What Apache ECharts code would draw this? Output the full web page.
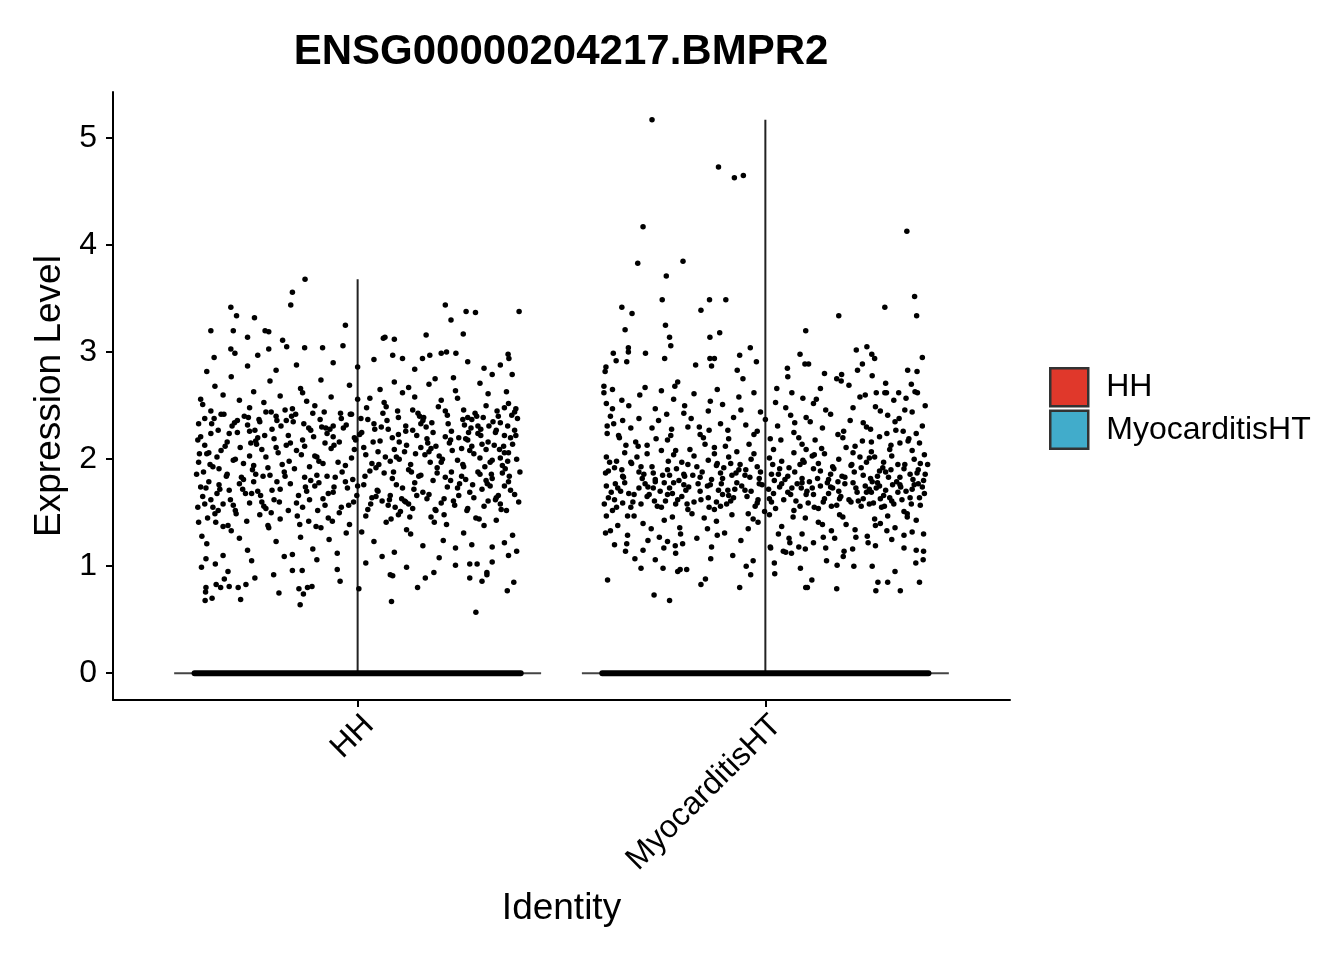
<!DOCTYPE html>
<html><head><meta charset="utf-8">
<script src="https://cdn.jsdelivr.net/npm/echarts@6/dist/echarts.min.js"></script>
<style>html,body{margin:0;padding:0;background:#fff}#c{width:1344px;height:960px}</style>
</head><body><div id="c"></div>
<script>
const chartTitle = 'ENSG00000204217.BMPR2';
const identities = ['HH', 'MyocarditisHT'];
const fillColors = ['#E0382B', '#41ACCB'];
const yTicks = [0, 1, 2, 3, 4, 5];
const maxExpr = [3.68, 5.17];
const zeroJitterSpan = [-0.4, 0.4];

// [jitter offset (category units), expression level] for non-zero cells
const hhCells = [
[-0.37,1.21],[0.12,1.34],[-0.05,1.12],[0.29,1.45],[-0.22,1.38],[0.33,1.18],[-0.14,1.27],[0.07,1.41],[-0.31,1.33],[0.21,1.24],[0.02,1.47],[-0.27,1.15],[0.38,1.29],[-0.09,1.36],[0.16,1.19],[-0.19,1.44],[0.26,1.31],[-0.35,1.49],[0.04,1.23],[0.31,1.38],[-0.11,1.16],[0.18,1.46],[-0.29,1.26],[0.09,1.13],[-0.02,1.39],[0.36,1.22],[-0.24,1.48],[0.13,1.3],[-0.39,1.41],[0.24,1.17],[-0.07,1.25],[0.34,1.43],[-0.16,1.11],[0.01,1.32],[0.28,1.2],[-0.33,1.37],[0.1,1.48],[-0.2,1.23],[0.39,1.14],[-0.12,1.42],
[-0.36,1.62],[0.14,1.78],[-0.04,1.55],[0.3,1.86],[-0.21,1.71],[0.35,1.58],[-0.13,1.83],[0.08,1.66],[-0.3,1.52],[0.22,1.74],[0.03,1.89],[-0.26,1.68],[0.37,1.79],[-0.08,1.57],[0.17,1.63],[-0.18,1.88],[0.27,1.54],[-0.34,1.76],[0.05,1.7],[0.32,1.61],[-0.1,1.85],[0.19,1.53],[-0.28,1.81],[0.11,1.73],[-0.01,1.6],[0.355,1.87],[-0.23,1.56],[0.15,1.84],[-0.38,1.65],[0.25,1.77],[-0.06,1.69],[0.33,1.82],[-0.15,1.59],[0.0,1.75],[0.285,1.64],[-0.32,1.86],[0.105,1.51],[-0.19,1.72],[0.385,1.67],[-0.115,1.8],
[-0.385,1.74],[0.125,1.58],[-0.055,1.83],[0.275,1.69],[-0.235,1.6],[0.315,1.8],[-0.145,1.66],[0.065,1.87],[-0.315,1.71],[0.205,1.59],[0.015,1.76],[-0.285,1.83],[0.365,1.52],[-0.095,1.78],[0.155,1.85],[-0.205,1.62],[0.245,1.73],[-0.355,1.55],[0.035,1.64],[0.295,1.88],[-0.125,1.7],[0.175,1.67],[-0.305,1.57],[0.085,1.82],[-0.025,1.73],[0.345,1.66],[-0.255,1.79],[0.135,1.54],[-0.395,1.86],[0.235,1.61],[-0.075,1.84],[0.325,1.75],[-0.165,1.77],[0.025,1.53],[0.265,1.81],[-0.345,1.68],[0.095,1.76],[-0.215,1.85],[0.395,1.6],[-0.135,1.55],
[-0.33,1.58],[0.16,1.69],[-0.03,1.79],[0.31,1.56],[-0.25,1.86],[0.375,1.71],[-0.17,1.52],[0.06,1.61],[-0.29,1.77],[0.23,1.88],[0.045,1.65],[-0.265,1.59],[0.34,1.64],[-0.105,1.75],[0.185,1.8],[-0.225,1.54],[0.255,1.84],[-0.365,1.79],[0.075,1.57],[0.305,1.72],[-0.085,1.63],[0.195,1.87],[-0.275,1.68],[0.115,1.61],[-0.045,1.5],[0.36,1.75],[-0.245,1.7],[0.145,1.66],[-0.375,1.58],[0.215,1.83],
[-0.37,2.05],[0.13,1.95],[-0.06,2.21],[0.28,2.12],[-0.22,1.92],[0.34,2.27],[-0.15,2.08],[0.08,1.98],[-0.32,2.16],[0.2,2.03],[0.01,2.25],[-0.28,1.96],[0.38,2.14],[-0.1,2.02],[0.17,2.19],[-0.2,2.11],[0.26,1.93],[-0.36,2.24],[0.05,2.07],[0.3,2.01],[-0.12,2.29],[0.18,2.1],[-0.3,2.0],[0.1,2.23],[-0.03,1.94],[0.36,2.06],[-0.25,2.17],[0.12,2.13],[-0.39,1.97],[0.23,2.26],[-0.08,2.15],[0.33,1.99],[-0.17,2.22],[0.02,2.04],[0.27,2.18],[-0.34,1.91],[0.09,2.09],[-0.21,2.28],[0.39,2.0],[-0.13,2.12],
[-0.355,1.93],[0.145,2.22],[-0.015,2.01],[0.295,2.24],[-0.195,2.06],[0.325,1.97],[-0.155,1.91],[0.055,2.17],[-0.335,2.08],[0.225,2.15],[0.035,1.96],[-0.245,2.2],[0.385,2.27],[-0.065,2.1],[0.165,2.04],[-0.185,1.95],[0.265,2.19],[-0.375,2.13],[0.075,2.28],[0.315,2.09],[-0.105,2.03],[0.195,1.92],[-0.265,2.26],[0.115,2.07],[-0.045,2.16],[0.355,1.94],[-0.225,2.02],[0.155,2.11],[-0.385,2.21],[0.245,1.99],[-0.085,1.96],[0.305,2.14],[-0.135,2.18],[0.005,2.23],[0.285,2.05],[-0.315,2.24],[0.125,1.9],[-0.175,2.13],[0.37,2.06],[-0.115,2.27],
[-0.325,2.12],[0.175,2.07],[-0.035,2.29],[0.32,2.16],[-0.265,2.03],[0.36,2.22],[-0.165,2.15],[0.045,1.92],[-0.305,1.99],[0.215,2.21],[0.015,2.11],[-0.295,2.25],[0.35,2.01],[-0.095,1.98],[0.185,2.25],[-0.205,2.19],[0.275,2.08],[-0.345,2.02],[0.085,2.2],[0.335,2.13],[-0.075,2.24],[0.205,1.97],[-0.235,2.09],[0.095,2.02],[-0.005,2.18],[0.375,2.2],[-0.255,1.94],[0.135,2.27],[-0.365,2.06],[0.255,2.1],
[-0.36,2.45],[0.11,2.62],[-0.04,2.38],[0.3,2.71],[-0.23,2.53],[0.35,2.34],[-0.14,2.66],[0.07,2.49],[-0.31,2.77],[0.22,2.41],[0.03,2.57],[-0.27,2.32],[0.37,2.52],[-0.09,2.74],[0.16,2.36],[-0.19,2.59],[0.26,2.46],[-0.35,2.68],[0.04,2.33],[0.32,2.61],[-0.11,2.43],[0.19,2.75],[-0.29,2.55],[0.1,2.39],[-0.02,2.69],[0.36,2.48],[-0.24,2.35],[0.14,2.58],[-0.38,2.51],[0.24,2.64],[-0.06,2.31],[0.33,2.79],[-0.16,2.47],[0.0,2.56],[0.28,2.37],[-0.33,2.6],[0.09,2.72],[-0.2,2.4],[0.385,2.44],[-0.125,2.54],
[-0.39,2.33],[0.135,2.46],[-0.065,2.58],[0.27,2.39],[-0.215,2.73],[0.315,2.5],[-0.175,2.36],[0.055,2.65],[-0.335,2.42],[0.205,2.55],[0.025,2.37],[-0.255,2.63],[0.345,2.4],[-0.105,2.5],[0.175,2.7],[-0.225,2.44],[0.245,2.57],[-0.375,2.38],[0.065,2.53],[0.295,2.31],[-0.135,2.62],[0.215,2.45],[-0.295,2.36],[0.125,2.67],[-0.015,2.42],[0.365,2.63],[-0.265,2.48],[0.155,2.33],[-0.385,2.56],[0.235,2.76],
[-0.392,2.18],[0.108,1.63],[-0.018,2.42],[0.268,1.52],[-0.188,2.31],[0.362,1.91],[-0.148,1.47],[0.072,2.36],[-0.322,1.84],[0.198,2.49],[0.048,1.71],[-0.278,2.4],[0.332,2.35],[-0.062,1.42],[0.142,2.05],[-0.238,1.66],[0.222,2.33],[-0.342,2.27],[0.088,1.88],[0.288,2.43],[-0.092,2.37],[0.238,1.57],[-0.258,1.9],[0.128,1.46],[-0.008,2.09],[0.392,2.38],[-0.212,2.44],[0.168,2.3],[-0.368,1.45],[0.218,1.39],[-0.048,1.97],[0.352,1.53],[-0.132,2.33],[0.018,1.84],[0.302,2.28],[-0.302,2.34],[0.082,1.44],[-0.168,1.98],[0.378,2.41],[-0.098,1.52],
[-0.348,1.41],[0.152,2.4],[-0.072,1.68],[0.312,1.93],[-0.252,2.27],[0.342,2.45],[-0.108,2.21],[0.032,1.58],[-0.288,2.11],[0.258,2.37],[0.062,2.43],[-0.218,1.36],[0.372,1.84],[-0.038,1.88],[0.188,1.41],[-0.158,2.35],[0.282,1.76],[-0.378,1.88],[0.118,2.31],[0.248,2.2],[-0.198,1.79],[0.212,1.63],[-0.328,2.42],[0.102,2.16],[-0.028,1.31],[0.322,2.31],[-0.272,1.42],[0.178,1.97],[-0.358,2.33],[0.272,2.25],[-0.118,1.93],[0.298,1.44],[-0.228,2.22],[0.008,2.38],[0.232,2.08],[-0.312,1.62],[0.058,2.3],[-0.142,1.39],[0.358,2.12],[-0.082,2.44],
[-0.382,1.28],[0.118,2.26],[-0.012,1.81],[0.248,1.66],[-0.178,2.46],[0.338,1.62],[-0.138,2.04],[0.092,1.55],[-0.352,2.38],[0.182,2.34],[0.038,2.16],[-0.298,1.49],[0.388,2.22],[-0.078,2.29],[0.138,1.72],[-0.248,2.14],[0.292,2.4],[-0.388,2.05],[0.022,2.48],[0.318,1.77],[-0.058,1.74],[0.162,2.39],[-0.232,1.84],[0.078,1.62],[-0.102,1.37],[0.348,2.09],[-0.268,2.39],[0.192,1.52],[-0.338,1.72],[0.262,2.32],[-0.042,2.43],[0.308,2.39],[-0.192,1.6],[-0.002,1.66],[0.228,1.8],[-0.362,1.95],[0.068,2.02],[-0.162,2.4],[0.398,1.88],[-0.028,2.32],
[-0.372,1.73],[0.098,2.45],[-0.068,2.28],[0.278,2.29],[-0.242,2.37],[0.328,1.86],[-0.118,1.62],[0.052,1.95],[-0.262,2.15],[0.208,2.0],[-0.022,1.57],[-0.308,2.31],[0.368,1.98],[-0.088,2.3],[0.172,2.15],[-0.212,1.5],[0.302,2.22],[-0.342,1.52],[0.132,1.88],[0.258,1.95],[-0.152,2.42],[0.228,2.18],[-0.282,1.72],[0.148,2.43],[-0.008,2.2],[0.338,2.25],[-0.198,2.36],[0.118,1.6],[-0.318,1.38],[0.192,2.12],[-0.072,1.45],[0.368,2.31],[-0.178,1.84],[0.042,2.28],[0.212,1.48],[-0.392,1.55],[0.102,2.0],[-0.128,1.74],[0.388,2.47],[-0.058,2.13],
[-0.129,3.68],[-0.16,3.56],[-0.164,3.44],[-0.311,3.42],[-0.297,3.34],[-0.253,3.32],[0.215,3.44],[0.229,3.3],[0.266,3.38],[0.289,3.37],[0.396,3.38],[0.259,3.17],[-0.36,3.2],[-0.305,3.2],[-0.227,3.2],[-0.218,3.19],[-0.03,3.25],[0.063,3.13],[0.067,3.14],[0.09,3.12],[0.168,3.16],[-0.184,3.11],[-0.174,3.05],[-0.27,3.14],[0.205,2.99],[0.218,3.0],[0.241,2.99],[0.369,2.98],[0.371,2.94],[-0.036,3.06],[-0.13,3.04],[-0.086,3.04],[-0.311,3.03],[-0.301,2.99],[-0.352,2.95],[-0.245,2.97],[-0.218,3.03],[0.11,2.94],[0.086,2.97],[0.159,2.94],[0.177,2.97],[0.27,2.91],[0.379,2.79],
[-0.37,2.82],[0.0,2.86],[-0.15,2.88],[0.31,2.85],[-0.06,2.9],[0.14,2.84],[-0.27,2.87],[0.35,2.88],[0.04,2.93],[-0.2,2.83],
[0.29,0.57],[0.083,0.67],[-0.141,0.64],[-0.374,0.68],[-0.357,0.7],[-0.287,0.69],[-0.373,0.76],[-0.372,0.8],[0.003,0.79],[-0.193,0.75],[-0.144,0.79],[-0.133,0.74],[-0.123,0.8],[-0.112,0.81],[-0.043,0.86],[0.367,0.77],[0.383,0.85],[0.275,0.89],[0.305,0.86],[0.147,0.8],[0.166,0.89],[0.187,0.94],[0.293,1.02],[0.275,1.02],[0.317,0.94],[0.317,0.92],[0.08,0.92],[0.086,0.91],[-0.336,0.8],[-0.315,0.81],[-0.293,0.8],[-0.274,0.83],[-0.347,0.83],[-0.252,0.89],[-0.327,0.88],[-0.318,0.95],[-0.383,0.99],[-0.372,1.07],[-0.349,1.02],[-0.206,0.92],[-0.16,0.96],[-0.136,0.96],
[-0.26,1.05],[0.02,1.03],[0.2,1.08],[-0.05,0.97],[0.33,1.04],[-0.18,1.09],[0.12,0.99],[0.37,1.1],[-0.33,1.1],[0.24,1.01],[-0.1,1.06],[0.06,1.09]
];

const myoCells = [
[-0.38,1.33],[0.13,1.41],[-0.06,1.24],[0.3,1.47],[-0.21,1.36],[0.34,1.29],[-0.15,1.45],[0.06,1.22],[-0.3,1.4],[0.22,1.34],[0.01,1.48],[-0.26,1.27],[0.37,1.43],[-0.1,1.31],[0.17,1.26],[-0.18,1.49],[0.27,1.38],[-0.34,1.21],[0.04,1.37],[0.31,1.25],[-0.12,1.42],[0.19,1.46],[-0.28,1.35],[0.09,1.3],[-0.03,1.44],[0.36,1.32],[-0.24,1.23],[0.14,1.39],[-0.39,1.47],[0.25,1.28],
[-0.362,1.38],[0.142,1.27],[-0.042,1.35],[0.282,1.4],[-0.228,1.46],[0.318,1.36],[-0.118,1.29],[0.098,1.45],[-0.288,1.24],[0.198,1.39],[0.032,1.3],[-0.248,1.43],[0.388,1.3],[-0.082,1.48],[0.162,1.33],[-0.168,1.26],[0.252,1.22],[-0.322,1.47],[0.058,1.26],[0.348,1.46],[-0.142,1.35],[0.222,1.27],[-0.392,1.31],[0.118,1.22],[-0.018,1.41],[0.298,1.33],[-0.208,1.3],[0.182,1.48],[-0.338,1.29],[0.268,1.44],
[-0.37,1.62],[0.12,1.55],[-0.05,1.71],[0.29,1.66],[-0.22,1.58],[0.33,1.76],[-0.14,1.64],[0.07,1.52],[-0.31,1.73],[0.21,1.6],[0.02,1.68],[-0.27,1.79],[0.38,1.57],[-0.09,1.66],[0.16,1.74],[-0.19,1.53],[0.26,1.69],[-0.35,1.59],[0.04,1.77],[0.31,1.61],[-0.11,1.56],[0.18,1.7],[-0.29,1.65],[0.09,1.78],[-0.02,1.59],[0.36,1.72],[-0.24,1.67],[0.13,1.54],[-0.39,1.75],[0.24,1.63],[-0.07,1.78],[0.34,1.51],[-0.16,1.7],[0.01,1.63],[0.28,1.75],[-0.33,1.55],[0.1,1.67],[-0.2,1.76],[0.39,1.68],[-0.12,1.6],
[-0.355,1.7],[0.145,1.63],[-0.025,1.56],[0.275,1.78],[-0.235,1.73],[0.315,1.58],[-0.165,1.77],[0.055,1.69],[-0.325,1.6],[0.195,1.77],[0.025,1.54],[-0.285,1.67],[0.355,1.64],[-0.075,1.72],[0.175,1.57],[-0.205,1.65],[0.245,1.75],[-0.375,1.52],[0.075,1.61],[0.295,1.71],[-0.135,1.76],[0.205,1.62],[-0.305,1.58],[0.115,1.73],[-0.045,1.65],[0.375,1.77],[-0.255,1.55],[0.155,1.68],[-0.385,1.64],[0.235,1.56],[-0.095,1.58],[0.325,1.69],[-0.175,1.6],[0.035,1.74],[0.265,1.59],[-0.345,1.78],[0.085,1.56],[-0.215,1.62],[0.385,1.74],[-0.115,1.71],
[-0.365,1.55],[0.165,1.73],[-0.015,1.77],[0.305,1.64],[-0.245,1.61],[0.345,1.7],[-0.125,1.53],[0.045,1.62],[-0.295,1.77],[0.225,1.69],[0.015,1.6],[-0.265,1.56],[0.365,1.76],[-0.085,1.61],[0.185,1.65],[-0.195,1.71],[0.255,1.58],[-0.335,1.68],[0.065,1.73],[0.285,1.55],[-0.105,1.67],[0.215,1.78],[-0.275,1.73],[0.105,1.59],[-0.035,1.7],[0.335,1.62],[-0.225,1.78],[0.135,1.75],[-0.395,1.58],[0.255,1.72],
[-0.37,1.92],[0.12,2.04],[-0.05,1.85],[0.29,1.97],[-0.22,2.08],[0.33,1.83],[-0.14,1.99],[0.07,2.06],[-0.31,1.88],[0.21,1.94],[0.02,2.09],[-0.27,1.81],[0.38,1.96],[-0.09,2.02],[0.16,1.86],[-0.19,1.95],[0.26,2.07],[-0.35,1.84],[0.04,1.98],[0.31,2.03],[-0.11,1.87],[0.18,2.0],[-0.29,2.05],[0.09,1.82],[-0.02,1.93],[0.36,2.08],[-0.24,1.9],[0.13,1.96],[-0.39,2.02],[0.24,1.85],[-0.07,2.07],[0.34,1.91],[-0.16,1.83],[0.01,2.01],[0.28,1.89],[-0.33,1.97],[0.1,2.09],[-0.2,1.86],[0.39,2.04],[-0.12,1.94],
[-0.345,2.06],[0.135,1.89],[-0.035,2.0],[0.275,1.84],[-0.205,1.97],[0.305,2.09],[-0.155,1.88],[0.085,1.95],[-0.315,2.02],[0.195,1.83],[0.035,1.91],[-0.255,2.08],[0.355,1.86],[-0.065,1.9],[0.145,2.05],[-0.175,2.03],[0.235,1.92],[-0.365,1.98],[0.055,1.84],[0.325,1.95],[-0.125,2.05],[0.165,1.93],[-0.275,1.87],[0.115,2.03],[-0.015,1.82],[0.375,1.9],[-0.225,2.04],[0.155,1.81],[-0.385,1.89],[0.215,2.06],[-0.085,1.96],[0.295,1.88],[-0.185,2.09],[0.015,1.86],[0.255,2.01],[-0.305,1.93],[0.095,1.97],[-0.235,1.85],[0.365,2.0],[-0.105,1.82],
[-0.36,2.22],[0.11,2.35],[-0.04,2.14],[0.3,2.41],[-0.23,2.28],[0.35,2.17],[-0.14,2.45],[0.07,2.25],[-0.31,2.38],[0.22,2.12],[0.03,2.31],[-0.27,2.47],[0.37,2.24],[-0.09,2.19],[0.16,2.42],[-0.19,2.3],[0.26,2.16],[-0.35,2.36],[0.05,2.48],[0.32,2.27],[-0.11,2.33],[0.19,2.2],[-0.29,2.13],[0.1,2.39],[-0.02,2.26],[0.36,2.44],[-0.24,2.18],[0.14,2.29],[-0.38,2.4],[0.24,2.34],[-0.06,2.46],[0.33,2.15],[-0.16,2.23],[0.0,2.37],[0.28,2.21],[-0.33,2.29],[0.09,2.14],[-0.2,2.43],[0.385,2.31],[-0.125,2.11],
[-0.372,2.33],[0.118,2.52],[-0.028,2.62],[0.258,2.28],[-0.198,2.5],[0.328,2.38],[-0.152,2.2],[0.062,2.41],[-0.318,2.16],[0.232,2.58],[0.012,2.19],[-0.262,2.36],[0.358,2.7],[-0.078,2.39],[0.178,2.23],[-0.222,2.68],[0.282,2.45],[-0.388,2.24],[0.092,2.57],[0.308,2.13],[-0.118,2.65],[0.208,2.36],[-0.278,2.29],[0.148,2.46],[-0.048,2.32],[0.378,2.15],[-0.242,2.42],[0.122,2.18],[-0.352,2.55],[0.272,2.62],[-0.092,2.27],[0.342,2.46],[-0.182,2.38],[0.028,2.66],[0.248,2.3],[-0.308,2.6],[0.072,2.34],[-0.138,2.27],[0.392,2.5],[-0.012,2.44],
[-0.39,2.52],[0.135,2.66],[-0.065,2.58],[0.27,2.49],[-0.215,2.72],[0.315,2.55],[-0.175,2.61],[0.055,2.77],[-0.335,2.5],[0.205,2.69],[0.025,2.53],[-0.255,2.64],[0.345,2.57],[-0.105,2.51],[0.175,2.75],[-0.225,2.56],[0.245,2.6],[-0.375,2.47],[0.065,2.62],[0.295,2.71],[-0.135,2.54],[0.215,2.48],[-0.295,2.67],[0.125,2.56],
[-0.392,1.87],[0.108,1.79],[-0.018,1.62],[0.268,2.02],[-0.188,1.74],[0.362,1.81],[-0.148,2.14],[0.072,1.88],[-0.322,1.67],[0.198,2.11],[0.048,1.81],[-0.278,1.93],[0.332,1.74],[-0.062,1.95],[0.142,1.6],[-0.238,1.98],[0.222,1.73],[-0.342,2.13],[0.088,1.73],[0.288,1.92],[-0.092,1.71],[0.238,2.17],[-0.258,1.7],[0.128,1.82],[-0.008,1.76],[0.392,1.86],[-0.212,1.8],[0.168,1.91],[-0.368,1.77],[0.218,1.88],[-0.048,1.9],[0.352,2.19],[-0.132,1.81],[0.018,1.95],[0.302,1.83],[-0.302,1.82],[0.082,2.2],[-0.168,1.93],[0.378,1.64],[-0.098,2.12],
[-0.348,1.83],[0.152,1.78],[-0.072,1.87],[0.312,1.76],[-0.252,1.85],[0.342,1.95],[-0.108,1.77],[0.032,1.86],[-0.288,1.74],[0.258,1.82],[0.062,1.67],[-0.218,1.91],[0.372,1.87],[-0.038,1.83],[0.188,1.84],[-0.158,1.62],[0.282,1.63],[-0.378,1.69],[0.118,1.91],[0.248,1.97],[-0.198,1.84],[0.212,1.95],[-0.328,1.96],[0.102,1.7],[-0.028,2.05],[0.322,1.79],[-0.272,1.61],[0.178,1.79],[-0.358,2.2],[0.272,1.73],[-0.118,1.96],[0.298,2.24],[-0.228,1.68],[0.008,1.72],[0.232,2.02],[-0.312,2.12],[0.058,1.92],[-0.142,1.75],[0.358,1.58],[-0.082,1.85],
[-0.382,1.97],[0.118,1.67],[-0.012,1.88],[0.248,1.69],[-0.178,1.85],[0.338,2.26],[-0.138,1.55],[0.092,1.99],[-0.352,1.9],[0.182,1.63],[0.038,2.18],[-0.298,1.86],[0.388,1.8],[-0.078,1.64],[0.138,2.1],[-0.248,1.78],[0.292,1.56],[-0.388,2.31],[0.022,1.8],[0.318,2.35],[-0.058,1.75],[0.162,1.56],[-0.232,2.22],[0.078,1.77],[-0.102,1.92],[0.348,1.49],[-0.268,2.19],[0.192,2.26],[-0.338,1.47],[0.262,1.79],[-0.042,1.49],[0.308,1.9],[-0.192,1.58],[-0.002,1.51],[0.228,1.61],[-0.362,1.73],[0.068,1.46],[-0.162,2.3],[0.398,1.95],[-0.028,2.23],
[-0.3,1.15],[0.05,1.13],[0.27,1.19],[-0.08,1.1],[0.34,1.17],[-0.22,1.12],[0.15,1.05],[-0.37,1.2],
[-0.278,5.17],[-0.115,4.73],[-0.076,4.63],[-0.054,4.65],[0.347,4.13],[-0.3,4.17],[-0.313,3.83],[-0.202,3.85],[-0.243,3.71],[-0.253,3.49],[-0.137,3.49],[-0.097,3.49],[0.366,3.52],[0.371,3.34],[0.293,3.42],[0.18,3.34],[-0.352,3.42],[-0.327,3.36],[-0.344,3.21],[-0.245,3.25],[-0.158,3.39],[-0.112,3.18],[-0.136,3.14],[0.099,3.2],[-0.235,3.14],[-0.232,3.06],[-0.336,3.04],[-0.336,3.0],[-0.373,2.99],[-0.366,2.92],[-0.34,2.91],[-0.294,2.99],[-0.247,2.94],[-0.171,2.88],[-0.136,2.94],[-0.125,2.94],[-0.132,2.87],[-0.063,2.97],[-0.037,3.04],[-0.022,2.91],[-0.069,2.83],[-0.055,2.75],[0.085,2.98],[0.097,2.89],[0.106,2.89],[0.054,2.85],[0.223,3.02],[0.249,3.05],[0.261,2.98],[0.268,2.94],[0.238,2.89],[0.226,2.83],[0.262,2.78],[0.385,2.95],[0.349,2.83],[0.372,2.82],[0.367,2.63],[0.373,2.62],[-0.393,2.82],[-0.391,2.86],[-0.396,2.68],[-0.396,2.62],[-0.375,2.65],[0.145,2.8],[0.187,2.79],[0.186,2.73],[0.293,2.62],[0.297,2.62],[0.327,2.62],
[-0.387,0.87],[-0.273,0.73],[-0.235,0.68],[-0.063,0.8],[-0.158,0.83],[-0.147,0.88],[-0.215,0.95],[-0.209,0.97],[-0.193,0.97],[-0.305,0.98],[-0.251,0.98],[-0.27,1.06],[-0.32,1.07],[-0.343,1.14],[-0.047,1.0],[-0.03,1.05],[-0.036,0.92],[0.023,0.93],[0.022,1.03],[0.086,0.98],[0.099,0.8],[0.103,0.8],[0.114,0.87],[0.175,0.79],[0.176,1.01],[0.217,1.0],[0.262,1.0],[0.271,0.77],[0.276,0.85],[0.3,0.85],[0.318,0.95],[0.331,0.77],[0.378,0.85],[0.387,1.06],[0.369,1.03],[0.388,1.14],[0.37,1.15],[0.012,1.18],[0.013,1.17],[0.044,1.14],[0.064,1.12],[0.082,1.18],[0.098,1.16],[0.148,1.17],[0.193,1.14],[0.191,1.09],[0.214,1.16],[-0.132,1.18],[-0.134,1.07],[-0.249,1.17],[-0.221,1.19],[-0.203,1.21]
];

const cellsByIdentity = [hhCells, myoCells];
const FONT = "'Liberation Sans', Arial, Helvetica, sans-serif";
const VIOLIN_HALF = 0.45;

const chart = echarts.init(document.getElementById('c'), null, {renderer: 'canvas'});

const series = [];
identities.forEach((name, i) => {
  const pos = i + 1;
  series.push({
    name: name,
    type: 'custom',
    z: 1,
    itemStyle: {color: fillColors[i]},
    data: [[pos, maxExpr[i]]],
    renderItem: (params, api) => {
      const cx = api.value(0), top = api.value(1);
      const l = api.coord([cx - VIOLIN_HALF, 0]);
      const r = api.coord([cx + VIOLIN_HALF, 0]);
      const b = api.coord([cx, 0]);
      const t = api.coord([cx, top]);
      return {type: 'group', children: [
        {type: 'line', shape: {x1: l[0], y1: l[1], x2: r[0], y2: r[1]}, style: {stroke: '#444', lineWidth: 2}},
        {type: 'line', shape: {x1: b[0], y1: b[1], x2: t[0], y2: t[1]}, style: {stroke: '#222', lineWidth: 2}}
      ]};
    }
  });
  series.push({
    name: name + '-zero',
    type: 'line',
    z: 3,
    silent: true,
    symbol: 'none',
    lineStyle: {color: '#000', width: 6, cap: 'round'},
    data: zeroJitterSpan.map(d => [pos + d, 0])
  });
  series.push({
    name: name + '-cells',
    type: 'scatter',
    z: 4,
    silent: true,
    symbolSize: 5.5,
    itemStyle: {color: '#000', opacity: 1},
    data: cellsByIdentity[i].map(c => [pos + c[0], c[1]])
  });
});

chart.setOption({
  animation: false,
  backgroundColor: '#fff',
  textStyle: {fontFamily: FONT},
  title: {
    text: chartTitle,
    left: 561, top: 31, textAlign: 'center', padding: 0,
    textStyle: {fontSize: 42, fontWeight: 'bold', color: '#000', fontFamily: FONT}
  },
  legend: {
    orient: 'vertical',
    left: 1049, top: 367, padding: 0,
    itemWidth: 38, itemHeight: 38, itemGap: 2,
    selectedMode: false,
    icon: 'rect',
    data: identities.map((n, i) => ({name: n, icon: 'rect', itemStyle: {color: fillColors[i], borderColor: '#333', borderWidth: 2.5}})),
    textStyle: {fontSize: 32, color: '#000', fontFamily: FONT, padding: [0, 0, 0, 13]}
  },
  grid: {left: 113, right: 334, top: 92, bottom: 260, containLabel: false},
  xAxis: {
    type: 'value', min: 0.4, max: 2.6,
    splitLine: {show: false},
    axisLine: {onZero: false, lineStyle: {color: '#000', width: 2}},
    axisTick: {customValues: [1, 2], length: 7, lineStyle: {color: '#000', width: 2}},
    axisLabel: {customValues: [1, 2], rotate: 45, margin: 9, align: 'right', verticalAlign: 'top',
      fontSize: 32, color: '#000', fontFamily: FONT,
      formatter: v => identities[Math.round(v) - 1] || ''},
    name: 'Identity', nameLocation: 'middle', nameGap: 190,
    nameTextStyle: {fontSize: 37, color: '#000', fontFamily: FONT}
  },
  yAxis: {
    type: 'value', min: -0.25, max: 5.43,
    splitLine: {show: false},
    axisLine: {onZero: false, lineStyle: {color: '#000', width: 2}},
    axisTick: {customValues: yTicks, length: 7, lineStyle: {color: '#000', width: 2}},
    axisLabel: {customValues: yTicks, margin: 16, fontSize: 32, color: '#000', fontFamily: FONT},
    name: 'Expression Level', nameLocation: 'middle', nameGap: 45,
    nameTextStyle: {fontSize: 37, color: '#000', fontFamily: FONT}
  },
  series: series
});
</script>
</body></html>
